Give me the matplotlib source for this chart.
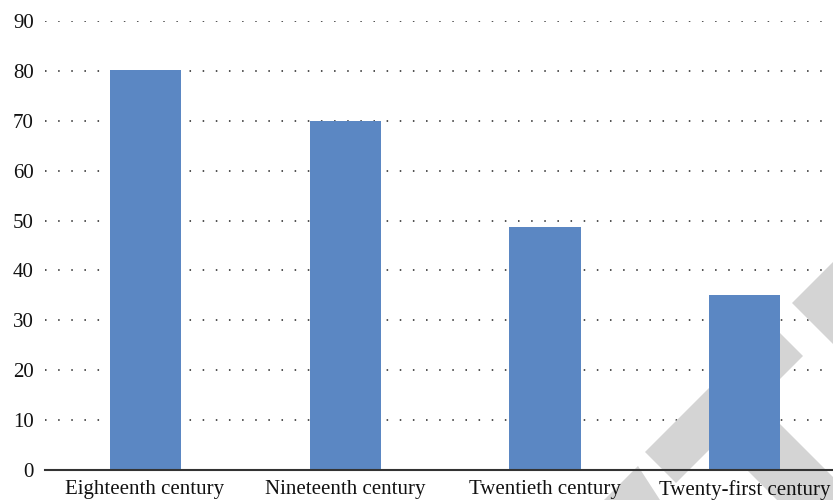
import matplotlib.pyplot as plt
from matplotlib.patches import Polygon
from matplotlib.transforms import Affine2D

# data
categories = ['Eighteenth century', 'Nineteenth century',
              'Twentieth century', 'Twenty-first century']
values = [80.2, 70.0, 48.7, 35.0]
yticks = [0, 10, 20, 30, 40, 50, 60, 70, 80, 90]

plt.rcParams['font.family'] = ['Liberation Serif', 'DejaVu Serif']

W, H = 833, 500
fig = plt.figure(figsize=(W / 100, H / 100), dpi=100)
# axes in pixel terms: left 45, right 845 (runs past the edge), zero at y=470, 90 at y=21
ax = fig.add_axes([45 / W, 30 / H, 800 / W, 449 / H])

ax.set_xlim(-0.5, len(categories) - 0.5)
ax.set_ylim(0, 90)

# dotted gridlines, drawn by hand so the watermark can sit above them
for v in yticks[1:]:
    ax.axhline(v, color='#222222', lw=1.1, ls=(0, (1, 7.6)), zorder=0.3)

# light grey watermark (pixel coords, y measured from top)
pix = Affine2D().scale(1, -1).translate(0, H)
marks = [
    [(645, 452), (772, 325), (803, 356), (676, 483)],
    [(792, 303), (852, 243), (852, 363)],
    [(715, 438), (754, 398), (900, 544), (900, 623)],
    [(638, 466), (604, 500), (660, 500)],
]
for pts in marks:
    ax.add_patch(Polygon(pts, closed=True, facecolor='#d4d4d4', edgecolor='none',
                         transform=pix, clip_on=False, zorder=0.6))

ax.bar(range(len(categories)), values, width=0.355, color='#5b87c3', zorder=1)

ax.axhline(0, color='#333333', lw=1.5, zorder=3, clip_on=False)

for s in ax.spines.values():
    s.set_visible(False)

ax.set_yticks(yticks)
ax.set_xticks(range(len(categories)))
ax.set_xticklabels(categories)
ax.tick_params(axis='both', length=0, labelsize=15, colors='#111111')
ax.tick_params(axis='y', pad=8)
ax.tick_params(axis='x', pad=7)

fig.savefig('out.png', dpi=100)
